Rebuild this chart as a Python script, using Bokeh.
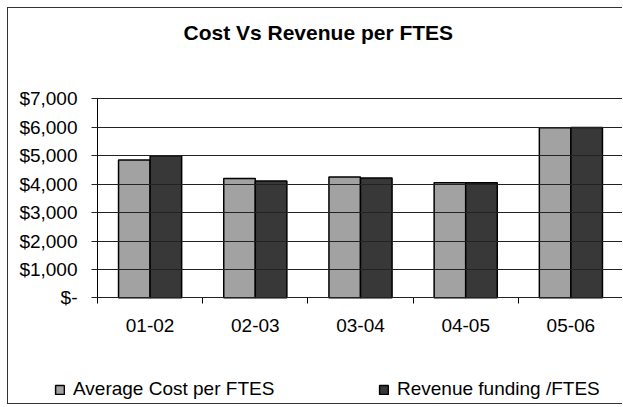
from bokeh.plotting import figure
from bokeh.models import (ColumnDataSource, Range1d, FixedTicker, Legend,
                          LegendItem, Title)
from bokeh.transform import dodge
from bokeh.embed import file_html
from bokeh.resources import INLINE

# ---- data ----
categories = ["01-02", "02-03", "03-04", "04-05", "05-06"]
avg_cost = [4850, 4200, 4255, 4050, 5980]
revenue = [5000, 4115, 4220, 4050, 5990]
series_names = ["Average Cost per FTES", "Revenue funding /FTES"]
y_ticks = [0, 1000, 2000, 3000, 4000, 5000, 6000, 7000]
y_tick_labels = ["$-", "$1,000", "$2,000", "$3,000", "$4,000", "$5,000", "$6,000", "$7,000"]
title_text = "Cost Vs  Revenue per FTES"

FONT = "Liberation Sans"

n = len(categories)
slot = list(range(n))                      # category slot index
src = ColumnDataSource(dict(slot=slot, cat=categories, cost=avg_cost, rev=revenue))

# The frame covers the whole chart box; the axes sit at x=0 / y=0 inside it,
# leaving room on the left for tick labels and at the bottom for the legend.
p = figure(width=615, height=397,
           x_range=Range1d(-0.846, n),
           y_range=Range1d(-3786, 7400),
           output_backend="svg", toolbar_location=None,
           title_location=None,
           min_border_left=0, min_border_right=0,
           min_border_top=79, min_border_bottom=0)

p.background_fill_color = "white"
p.border_fill_color = "white"
p.outline_line_color = None
p.xgrid.visible = False
p.ygrid.visible = False
p.styles = {"margin-left": "7px", "margin-top": "7px",
            "border-top": "1px solid #333", "border-left": "1px solid #333",
            "border-bottom": "1px solid #333"}

# title (a thin spacer keeps it well above the plot area)
p.add_layout(Title(text=" ", text_font_size="1px", standoff=36), "above")
p.add_layout(Title(text=title_text, text_font=FONT, text_font_size="21px",
                   text_font_style="bold", text_color="black",
                   align="left", offset=175, standoff=10), "above")

# bars
r1 = p.vbar(x=dodge("slot", 0.35), top="cost", width=0.3,
            source=src, fill_color="#a2a2a2", line_color="black", line_width=1.5)
r2 = p.vbar(x=dodge("slot", 0.65), top="rev", width=0.3,
            source=src, fill_color="#383838", line_color="black", line_width=1.5)

# y axis at x = 0; its long inward ticks act as the horizontal gridlines
yax = p.yaxis[0]
yax.fixed_location = 0
yax.bounds = (y_ticks[0], y_ticks[-1])
yax.ticker = FixedTicker(ticks=y_ticks)
yax.major_label_overrides = dict(zip(y_ticks, y_tick_labels))
yax.major_label_text_font = FONT
yax.major_label_text_font_size = "19px"
yax.major_label_text_color = "black"
yax.major_tick_out = 6
yax.major_tick_in = 530
yax.major_tick_line_color = "#222222"
yax.minor_tick_line_color = None
yax.axis_line_color = "black"
yax.major_label_standoff = 14

# x axis at y = 0: labels at category centres, ticks at category boundaries
centres = [i + 0.5 for i in slot]
bounds = list(range(n + 1))
xax = p.xaxis[0]
xax.fixed_location = 0
xax.bounds = (bounds[0], bounds[-1])
xax.ticker = FixedTicker(ticks=centres, minor_ticks=bounds)
xax.major_label_overrides = dict(zip(centres, categories))
xax.major_tick_line_color = None
xax.minor_tick_line_color = "black"
xax.minor_tick_out = 6
xax.minor_tick_in = 0
xax.axis_line_color = "black"
xax.major_label_text_font = FONT
xax.major_label_text_font_size = "19px"
xax.major_label_text_color = "black"
xax.major_label_standoff = 15

# legend along the bottom of the chart box
leg = Legend(items=[LegendItem(label=series_names[0], renderers=[r1]),
                    LegendItem(label=series_names[1], renderers=[r2])],
             location=(46, 5), orientation="horizontal",
             border_line_color=None, background_fill_alpha=0,
             padding=0, margin=0, spacing=84, label_width=221,
             glyph_width=11, glyph_height=11, label_standoff=8,
             label_text_font=FONT, label_text_font_size="19px",
             label_text_color="black")
p.add_layout(leg)

open("out.html", "w").write(file_html(p, INLINE))
